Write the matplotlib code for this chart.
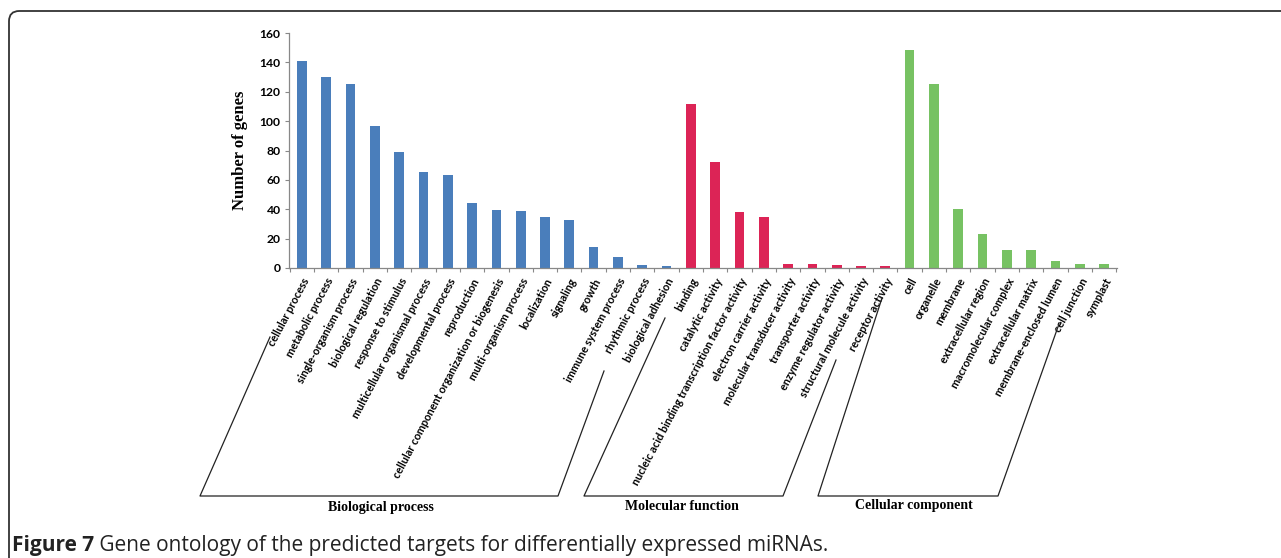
import matplotlib.pyplot as plt
from matplotlib.lines import Line2D
from matplotlib.patches import FancyBboxPatch

# GO categories and gene counts
bp_terms = ['cellular process', 'metabolic process', 'single-organism process',
            'biological regulation', 'response to stimulus',
            'multicellular organismal process', 'developmental process',
            'reproduction', 'cellular component organization or biogenesis',
            'multi-organism process', 'localization', 'signaling', 'growth',
            'immune system process', 'rhythmic process', 'biological adhesion']
bp_counts = [141, 130, 125, 97, 79, 65.5, 63, 44.5, 39.5, 39, 34.5, 33, 14.5, 7.5, 2, 1.3]

mf_terms = ['binding', 'catalytic activity',
            'nucleic acid binding transcription factor activity',
            'electron carrier activity', 'molecular transducer activity',
            'transporter activity', 'enzyme regulator activity',
            'structural molecule activity', 'receptor activity']
mf_counts = [112, 72.5, 38, 34.5, 2.5, 2.5, 2, 1.3, 1.3]

cc_terms = ['cell', 'organelle', 'membrane', 'extracellular region',
            'macromolecular complex', 'extracellular matrix',
            'membrane-enclosed lumen', 'cell junction', 'symplast']
cc_counts = [148.5, 125, 40.5, 23, 12, 12, 4.5, 2.5, 2.5]

groups = ['Biological process', 'Molecular function', 'Cellular component']
colors = ['#4a7ebb', '#dc2456', '#77c263']

W, H = 1281, 558
fig = plt.figure(figsize=(W / 100, H / 100), dpi=100)


def px(x, y):
    # pixel position (from top-left) -> figure fraction
    return x / W, 1 - y / H


ax = fig.add_axes([289 / W, (H - 268) / H, 828 / W, 235 / H])

terms = bp_terms + mf_terms + cc_terms
counts = bp_counts + mf_counts + cc_counts
bar_colors = ([colors[0]] * len(bp_terms) + [colors[1]] * len(mf_terms)
              + [colors[2]] * len(cc_terms))
xs = list(range(len(terms)))
ax.bar(xs, counts, width=0.4, color=bar_colors, linewidth=0)

ax.set_xlim(-0.53, len(terms) - 0.47)
ax.set_ylim(0, 160)
ax.set_yticks(range(0, 161, 20))
ax.set_xticks(xs)
ax.set_xticks([i - 0.5 for i in range(len(terms) + 1)], minor=True)
ax.set_xticklabels(terms, rotation=62, ha='right', rotation_mode='anchor',
                   family='Lato', fontweight='bold', fontsize=7.9)
ax.tick_params(axis='x', which='major', length=0, pad=6)
ax.tick_params(axis='x', which='minor', length=3, color='#888888', width=0.8)
ax.tick_params(axis='y', length=3, color='#888888', width=0.8, pad=3)
for lab in ax.get_yticklabels():
    lab.set_family('Lato')
    lab.set_fontweight('bold')
    lab.set_fontsize(8.7)

for s in ['top', 'right']:
    ax.spines[s].set_visible(False)
for s in ['left', 'bottom']:
    ax.spines[s].set_color('#888888')
    ax.spines[s].set_linewidth(0.9)

ax.set_ylabel('Number of genes', family='Liberation Serif', fontweight='bold',
              fontsize=12, labelpad=8)

# group brackets below the rotated labels
brackets = [
    [(270, 337), (200, 496), (558, 496), (604, 371)],
    [(665, 318), (584, 496), (783, 496), (836, 360)],
    [(882, 298), (818, 496), (998, 496), (1059, 324)],
]
label_pos = [(381, 507), (682, 507), (914, 506)]
for pts, name, (lx, ly) in zip(brackets, groups, label_pos):
    xy = [px(x, y) for x, y in pts]
    fig.add_artist(Line2D([p[0] for p in xy], [p[1] for p in xy],
                          color='#222222', linewidth=0.9))
    fx, fy = px(lx, ly)
    fig.text(fx, fy, name, family='Liberation Serif', fontweight='bold',
             fontsize=10, ha='center', va='center')

# frame around the figure panel (open at right and bottom)
frame = FancyBboxPatch(px(9, 600), (W + 40) / W, (600 - 11) / H,
                       boxstyle='round,pad=0,rounding_size=0.008',
                       transform=fig.transFigure, fill=False,
                       edgecolor='#333333', linewidth=1.3, mutation_aspect=W / H)
fig.add_artist(frame)

cx, cy = px(12, 545)
t1 = fig.text(cx, cy, 'Figure 7', family='Open Sans', fontweight='bold',
              fontsize=15, va='center', ha='left', color='#222222')
ax.annotate(' Gene ontology of the predicted targets for differentially expressed miRNAs.',
            xy=(1, 0), xycoords=t1, va='bottom', ha='left',
            family='Open Sans', fontsize=15, color='#222222', annotation_clip=False)

fig.savefig('out.png', dpi=100)
